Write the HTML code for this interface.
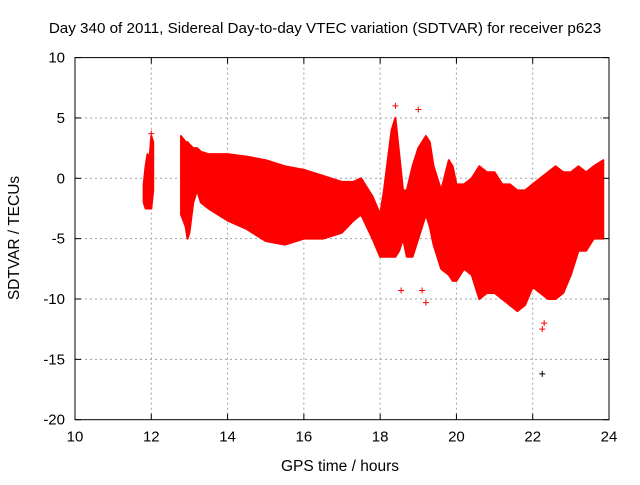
<!DOCTYPE html>
<html><head><meta charset="utf-8"><style>
body{margin:0;background:#fff;}
svg text{font-family:"Liberation Sans",sans-serif;fill:#000;}
</style></head><body>
<svg id="chart" width="640" height="480" xmlns="http://www.w3.org/2000/svg">
<rect width="640" height="480" fill="#fff"/>
<text x="325" y="33" font-size="15.2" text-anchor="middle">Day 340 of 2011, Sidereal Day-to-day VTEC variation (SDTVAR) for receiver p623</text>
<text x="340" y="471" font-size="15.5" text-anchor="middle">GPS time / hours</text>
<text transform="translate(19,238) rotate(-90)" font-size="15.5" text-anchor="middle">SDTVAR / TECUs</text>
<g id="grid"></g><g id="series"></g><g id="axes"></g>
</svg>
<script>
const xTicks=[10,12,14,16,18,20,22,24];
const yTicks=[10,5,0,-5,-10,-15,-20];
const segATimes=[11.8,11.85,11.9,11.95,12.0,12.05];
const segAUpper=[-0.5,1,2,1.5,3.5,3];
const segALower=[-2,-2.5,-2.5,-2.5,-2.5,-1];
const segBTimes=[12.78,12.9,12.95,13.0,13.1,13.2,13.3,13.5,14,14.5,15,15.5,16,16.5,17,17.3,17.5,17.8,18.0,18.1,18.3,18.4,18.5,18.6,18.7,18.85,19.0,19.2,19.3,19.4,19.5,19.6,19.8,19.9,20.0,20.2,20.4,20.5,20.6,20.8,21.0,21.2,21.4,21.6,21.8,22.0,22.2,22.4,22.6,22.8,23.0,23.2,23.4,23.6,23.85];
const segBUpper=[3.5,3,3,2.8,2.5,2.5,2.2,2,2,1.8,1.5,1,0.7,0.2,-0.3,-0.3,0,-1.5,-3,-1,4,5,2,-1,-1,1,2.5,3.5,3,1,0,-1,1.5,1,-0.5,-0.5,0,0.5,1,0.5,0.5,-0.5,-0.5,-1,-1,-0.5,0,0.5,1,0.5,0.5,1,0.5,1,1.5];
const segBLower=[-3,-4,-5,-4.5,-2,-1,-2,-2.5,-3.5,-4.2,-5.2,-5.5,-5,-5,-4.5,-3.5,-3,-5,-6.5,-6.5,-6.5,-6.5,-6,-5,-6.5,-6.5,-5,-3,-4,-5.5,-6.5,-7.5,-8,-8.5,-8.5,-7.5,-8,-9,-10,-9.5,-9.5,-10,-10.5,-11,-10.5,-9,-9.5,-10,-10,-9.5,-8,-6,-6,-5,-5];
const outlierT=[18.55,19.2,19.1,22.25,22.25,22.3,18.4,19.0,12.0];
const outlierV=[-9.3,-10.3,-9.3,-16.2,-12.5,-12,6,5.7,3.7];

const X0=75,X1=609,Y0=419.7,Y1=57.6;
const xs=t=>X0+(t-10)/(24-10)*(X1-X0);
const ys=v=>Y0+(v+20)/30*(Y1-Y0);
const NS="http://www.w3.org/2000/svg";
function mk(tag,attrs,parent){const e=document.createElementNS(NS,tag);for(const k in attrs)e.setAttribute(k,attrs[k]);parent.appendChild(e);return e;}
const grid=document.getElementById('grid'),ser=document.getElementById('series'),ax=document.getElementById('axes');
xTicks.forEach(t=>{
  if(t>10&&t<24){const l=mk('line',{x1:xs(t),x2:xs(t),y1:Y1,y2:Y0,stroke:'#a0a0a0','stroke-dasharray':'2,3'},grid);
  }
  const tk=mk('line',{x1:xs(t),x2:xs(t),y1:Y0,y2:Y0-6,stroke:'#000'},ax);
  
  const tk2=mk('line',{x1:xs(t),x2:xs(t),y1:Y1,y2:Y1+6,stroke:'#000'},ax);
  
  const tx=mk('text',{x:xs(t),y:Y0+22,'font-size':15,'text-anchor':'middle'},ax);tx.textContent=t;
  
});
yTicks.forEach(v=>{
  if(v>-20&&v<10){const l=mk('line',{x1:X0,x2:X1,y1:ys(v),y2:ys(v),stroke:'#a0a0a0','stroke-dasharray':'2,3'},grid);
  }
  const tk=mk('line',{x1:X0,x2:X0+6,y1:ys(v),y2:ys(v),stroke:'#000'},ax);
  
  const tk2=mk('line',{x1:X1,x2:X1-6,y1:ys(v),y2:ys(v),stroke:'#000'},ax);
  
  const tx=mk('text',{x:X0-10,y:ys(v)+5,'font-size':15,'text-anchor':'end'},ax);tx.textContent=v;
  
});
const fr=mk('rect',{x:X0,y:Y1,width:X1-X0,height:Y0-Y1,fill:'none',stroke:'#000'},ax);

function band(T,U,L,name){
  let pts=T.map((t,i)=>xs(t)+','+ys(U[i]));
  for(let i=T.length-1;i>=0;i--)pts.push(xs(T[i])+','+ys(L[i]));
  const p=mk('polygon',{points:pts.join(' '),fill:'#ff0000',stroke:'#ff0000','stroke-width':2,'stroke-linejoin':'round'},ser);
  
}
band(segATimes,segAUpper,segALower,'sdtvar-band-early');
band(segBTimes,segBUpper,segBLower,'sdtvar-band-main');
outlierT.forEach((t,i)=>{
  const g=mk('path',{d:`M${xs(t)-3},${ys(outlierV[i])}h6M${xs(t)},${ys(outlierV[i])-3}v6`,stroke:i==3?'#000':'#ff0000','stroke-width':1},ser);
  
});
</script>
</body></html>
